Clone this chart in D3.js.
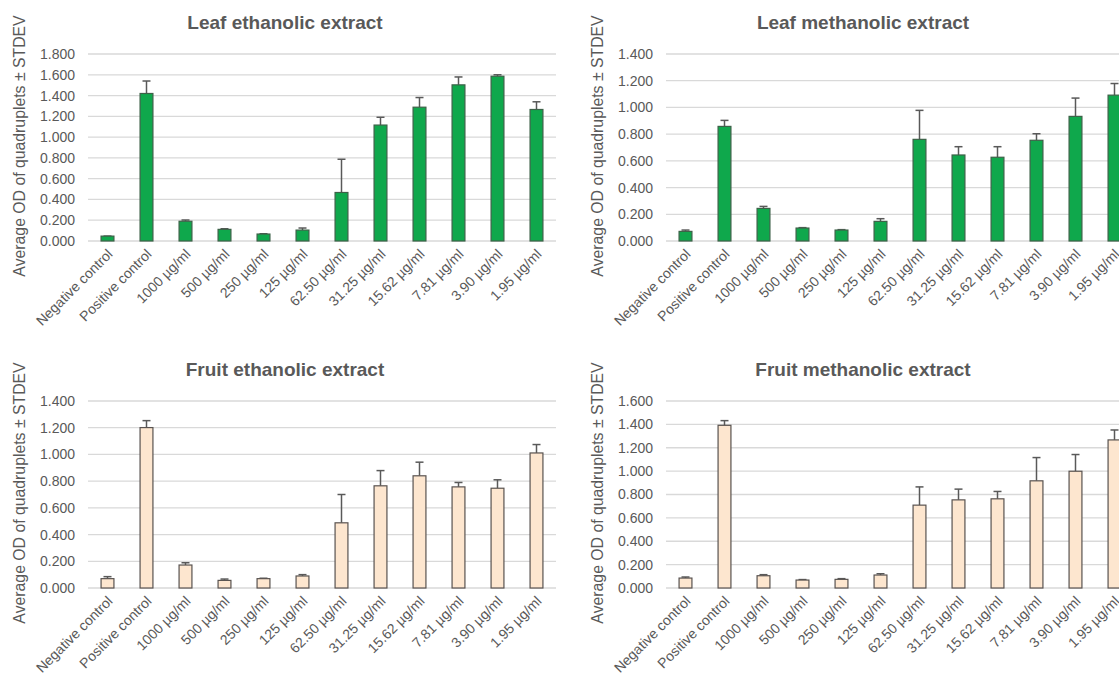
<!doctype html>
<html>
<head>
	<meta charset="utf-8">
	<title>OD of quadruplets</title>
	<script src="https://cdnjs.cloudflare.com/ajax/libs/d3/7.8.5/d3.min.js"></script>
	<style>
		body { margin: 0; background-color: #ffffff; }
		svg { display: block; font-family: "Liberation Sans", Arial, sans-serif; }
	</style>
</head>
<body>
<div id="chart-area"></div>
<script>
	// categories
	var categories = ["Negative control", "Positive control", "1000 µg/ml", "500 µg/ml", "250 µg/ml",
		"125 µg/ml", "62.50 µg/ml", "31.25 µg/ml", "15.62 µg/ml", "7.81 µg/ml", "3.90 µg/ml", "1.95 µg/ml"];

	// Leaf ethanolic extract
	var leafEthMean = [0.047, 1.420, 0.190, 0.112, 0.067, 0.105, 0.467, 1.116, 1.288, 1.503, 1.586, 1.266];
	var leafEthSd   = [0.000, 0.120, 0.012, 0.006, 0.003, 0.020, 0.320, 0.075, 0.093, 0.076, 0.014, 0.074];
	var leafEthTicks = [0, 0.2, 0.4, 0.6, 0.8, 1.0, 1.2, 1.4, 1.6, 1.8];

	// Leaf methanolic extract
	var leafMethMean = [0.072, 0.858, 0.244, 0.097, 0.082, 0.147, 0.761, 0.644, 0.627, 0.754, 0.933, 1.092];
	var leafMethSd   = [0.010, 0.045, 0.015, 0.003, 0.003, 0.020, 0.217, 0.062, 0.079, 0.049, 0.137, 0.087];
	var leafMethTicks = [0, 0.2, 0.4, 0.6, 0.8, 1.0, 1.2, 1.4];

	// Fruit ethanolic extract
	var fruitEthMean = [0.070, 1.201, 0.172, 0.057, 0.070, 0.090, 0.488, 0.765, 0.840, 0.757, 0.747, 1.011];
	var fruitEthSd   = [0.015, 0.052, 0.017, 0.010, 0.003, 0.010, 0.212, 0.114, 0.102, 0.033, 0.063, 0.063];
	var fruitEthTicks = [0, 0.2, 0.4, 0.6, 0.8, 1.0, 1.2, 1.4];

	// Fruit methanolic extract
	var fruitMethMean = [0.085, 1.392, 0.105, 0.068, 0.074, 0.111, 0.709, 0.754, 0.763, 0.917, 0.999, 1.267];
	var fruitMethSd   = [0.009, 0.040, 0.009, 0.004, 0.006, 0.011, 0.156, 0.092, 0.063, 0.199, 0.143, 0.085];
	var fruitMethTicks = [0, 0.2, 0.4, 0.6, 0.8, 1.0, 1.2, 1.4, 1.6];

	var yTitle = "Average OD of quadruplets ± STDEV";

	var panels = [
		{ title: "Leaf ethanolic extract", mean: leafEthMean, sd: leafEthSd, ticks: leafEthTicks,
			fill: "#0fa84c", stroke: "#3d6148", ox: 0, oy: 0 },
		{ title: "Leaf methanolic extract", mean: leafMethMean, sd: leafMethSd, ticks: leafMethTicks,
			fill: "#0fa84c", stroke: "#3d6148", ox: 578, oy: 0 },
		{ title: "Fruit ethanolic extract", mean: fruitEthMean, sd: fruitEthSd, ticks: fruitEthTicks,
			fill: "#fde6cf", stroke: "#595350", ox: 0, oy: 347 },
		{ title: "Fruit methanolic extract", mean: fruitMethMean, sd: fruitMethSd, ticks: fruitMethTicks,
			fill: "#fde6cf", stroke: "#595350", ox: 578, oy: 347 }
	];

	var plot = { left: 88, right: 556, top: 54, bottom: 241 };

	var svg = d3.select("#chart-area").append("svg")
		.attr("width", 1119)
		.attr("height", 677);

	var fmt = d3.format(".3f");

	panels.forEach(function(p) {
		var g = svg.append("g")
			.attr("transform", "translate(" + p.ox + "," + p.oy + ")");

		var x = d3.scaleBand()
			.domain(categories)
			.range([plot.left, plot.right])
			.paddingInner(0.67)
			.paddingOuter(0.335);

		var y = d3.scaleLinear()
			.domain([0, d3.max(p.ticks)])
			.range([plot.bottom, plot.top]);

		// gridlines
		g.append("g")
			.selectAll("line")
			.data(p.ticks)
			.enter().append("line")
			.attr("x1", plot.left)
			.attr("x2", plot.right)
			.attr("y1", function(d) { return y(d); })
			.attr("y2", function(d) { return y(d); })
			.attr("stroke", "#d9d9d9")
			.attr("stroke-width", 1.3);

		// y axis
		var yAxis = g.append("g")
			.attr("transform", "translate(" + (plot.left - 10) + ",0)")
			.call(d3.axisLeft(y).tickValues(p.ticks).tickFormat(fmt).tickSize(0).tickPadding(3));
		yAxis.select(".domain").remove();
		yAxis.selectAll("text")
			.attr("font-size", "14px")
			.attr("font-family", "Liberation Sans, Arial, sans-serif")
			.attr("fill", "#595959");

		// x axis labels, rotated
		var xAxis = g.append("g")
			.attr("transform", "translate(0," + plot.bottom + ")")
			.call(d3.axisBottom(x).tickSize(0).tickPadding(0));
		xAxis.select(".domain").remove();
		xAxis.selectAll("text")
			.attr("font-size", "14px")
			.attr("font-family", "Liberation Sans, Arial, sans-serif")
			.attr("fill", "#595959")
			.attr("text-anchor", "end")
			.attr("dy", "0")
			.attr("transform", "translate(6,14) rotate(-45)");

		var data = categories.map(function(c, i) {
			return { cat: c, mean: p.mean[i], sd: p.sd[i] };
		});

		// error bars (plus only)
		var err = g.append("g");
		err.selectAll(".err")
			.data(data)
			.enter().append("line")
			.attr("x1", function(d) { return x(d.cat) + x.bandwidth() / 2; })
			.attr("x2", function(d) { return x(d.cat) + x.bandwidth() / 2; })
			.attr("y1", function(d) { return y(d.mean); })
			.attr("y2", function(d) { return y(d.mean + d.sd); })
			.attr("stroke", "#595959")
			.attr("stroke-width", 1.5);
		err.selectAll(".cap")
			.data(data)
			.enter().append("line")
			.attr("x1", function(d) { return x(d.cat) + x.bandwidth() / 2 - 4; })
			.attr("x2", function(d) { return x(d.cat) + x.bandwidth() / 2 + 4; })
			.attr("y1", function(d) { return y(d.mean + d.sd); })
			.attr("y2", function(d) { return y(d.mean + d.sd); })
			.attr("stroke", "#595959")
			.attr("stroke-width", 1.5);

		// bars
		g.append("g")
			.selectAll("rect")
			.data(data)
			.enter().append("rect")
			.attr("x", function(d) { return x(d.cat); })
			.attr("width", x.bandwidth())
			.attr("y", function(d) { return y(d.mean); })
			.attr("height", function(d) { return plot.bottom - y(d.mean); })
			.attr("fill", p.fill)
			.attr("stroke", p.stroke)
			.attr("stroke-width", 1.2);

		// title
		g.append("text")
			.attr("x", 285)
			.attr("y", 29)
			.attr("text-anchor", "middle")
			.attr("font-size", "19px")
			.attr("font-weight", "bold")
			.attr("fill", "#595959")
			.text(p.title);

		// y axis title
		g.append("text")
			.attr("transform", "translate(25,146) rotate(-90)")
			.attr("text-anchor", "middle")
			.attr("font-size", "15.8px")
			.attr("fill", "#595959")
			.text(yTitle);
	});
</script>
</body>
</html>
